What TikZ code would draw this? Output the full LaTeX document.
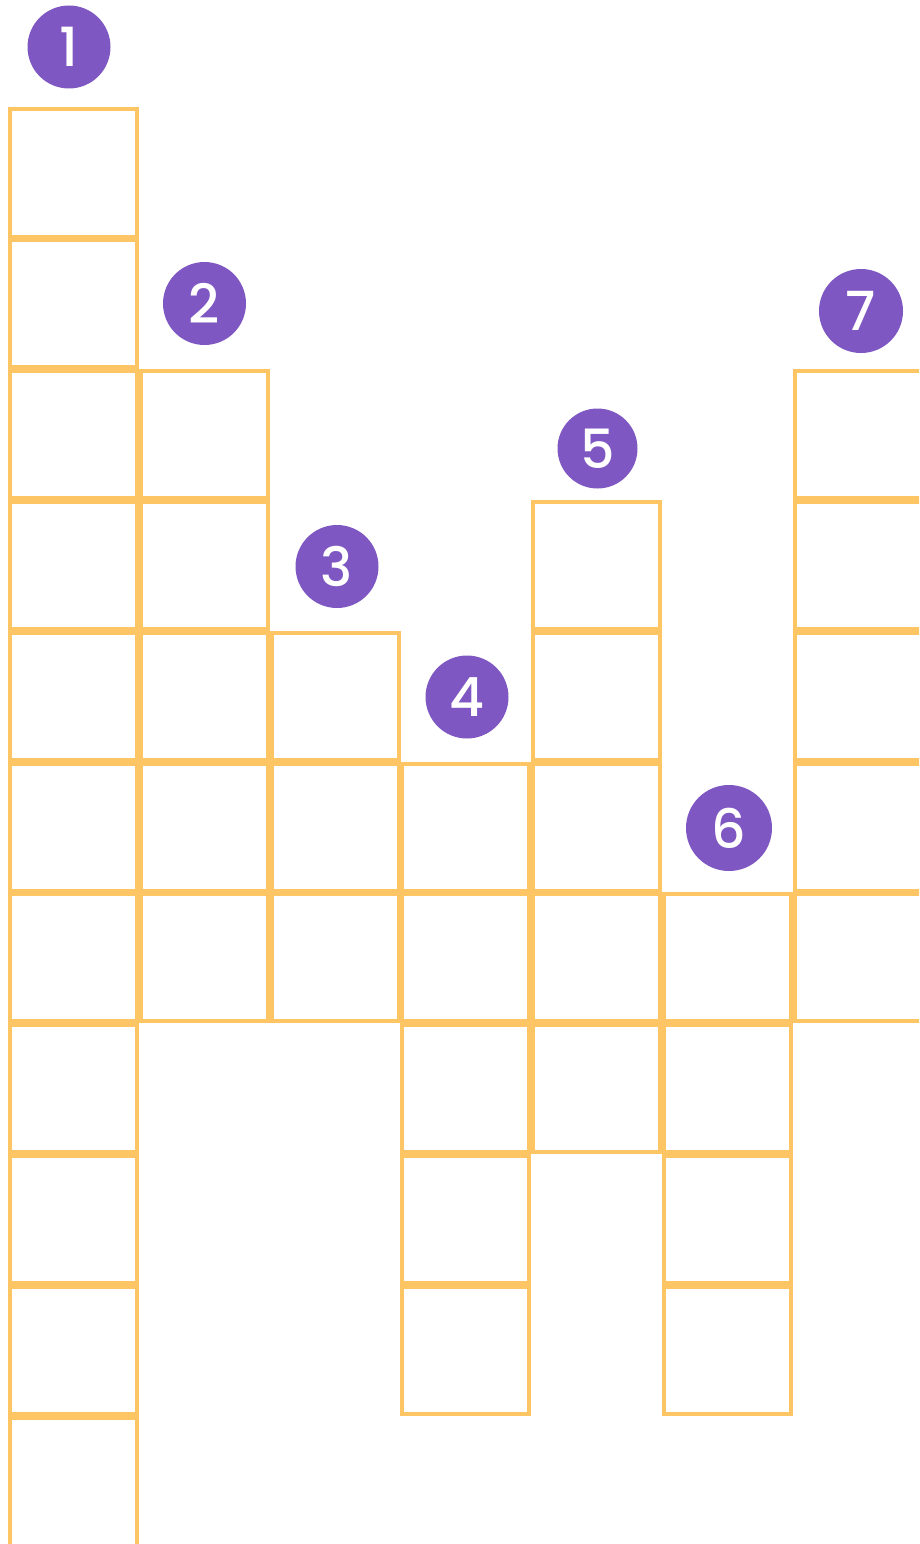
\documentclass[tikz,border=0pt]{standalone}
\usepackage{fontspec}
\setmainfont{Poppins}
\newfontfamily\badgefont{Poppins}[UprightFont={* Medium}]
\definecolor{cellyellow}{HTML}{FDC564}
\definecolor{badgepurple}{HTML}{7E57C2}
\tikzset{
  cell/.style={draw=cellyellow, line width=4pt, minimum width=127pt, minimum height=127pt,
    inner sep=0pt, outer sep=0pt, anchor=north west},
  badge/.style={circle, fill=badgepurple, minimum size=83pt, inner sep=0pt,
    text=white, font=\badgefont\fontsize{54}{54}\selectfont},
}
\begin{document}
\begin{tikzpicture}[x=1pt,y=-1pt]
\useasboundingbox (0,0) rectangle (919,1544);
\clip (0,0) rectangle (919,1544);
% columns: index, first row, last row
\foreach \c/\a/\b in {0/0/9, 1/2/6, 2/4/6, 3/5/9, 4/3/7, 5/6/9, 6/2/6}{
  \foreach \r in {\a,...,\b}{
    \node[cell] (c\c-\r) at ({10+130.8*\c},{109.5+130.8*\r}) {};
  }
}
\node[cell, minimum height=150pt] (c0-10) at (10,{109.5+130.8*10}) {};
\node[badge] (n1) at (69,47) {1};
\node[badge] (n2) at (204.5,303.5) {2};
\node[badge] (n3) at (337,566.5) {3};
\node[badge] (n4) at (467,697) {4};
\node[badge, minimum size=80pt] (n5) at (597.5,448.5) {5};
\node[badge, minimum size=86pt] (n6) at (729,828) {6};
\node[badge, minimum size=84pt] (n7) at (861,311) {7};
\end{tikzpicture}
\end{document}
